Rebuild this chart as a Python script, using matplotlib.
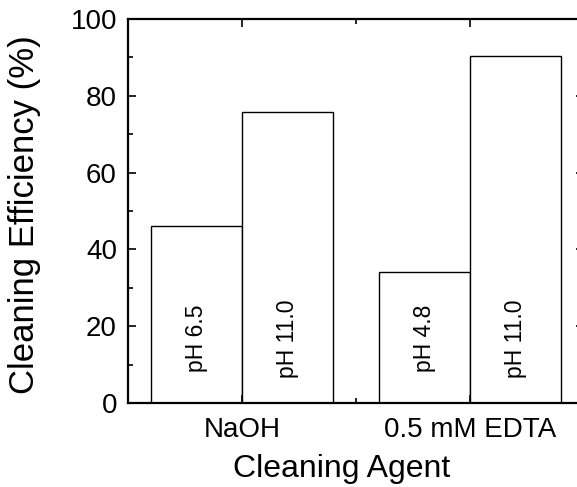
import numpy as np
import matplotlib
matplotlib.use('Agg')
import matplotlib.pyplot as plt
from matplotlib.ticker import MultipleLocator

# data
agents = ['NaOH', '0.5 mM EDTA']
eff_low = [46.2, 34.2]      # cleaning efficiency at the lower pH (%)
eff_high = [75.8, 90.4]     # cleaning efficiency at pH 11.0 (%)
ph_low = ['pH 6.5', 'pH 4.8']
ph_high = ['pH 11.0', 'pH 11.0']

plt.rcParams['font.family'] = ['Liberation Sans', 'DejaVu Sans']

fig = plt.figure(figsize=(5.77, 4.87), dpi=100)
ax = fig.add_axes([128/577, 1 - 403/487, (583.5 - 128)/577, (403 - 19)/487])

x = np.arange(1, len(agents) + 1)
w = 0.4
ax.bar(x - w/2, eff_low, width=w, color='white', edgecolor='black', linewidth=1.0)
ax.bar(x + w/2, eff_high, width=w, color='white', edgecolor='black', linewidth=1.0)

for xi, lbl in zip(x - w/2, ph_low):
    ax.text(xi, 16.8, lbl, rotation=90, ha='center', va='center', fontsize=16.5)
for xi, lbl in zip(x + w/2, ph_high):
    ax.text(xi, 16.8, lbl, rotation=90, ha='center', va='center', fontsize=16.5)

ax.set_xlim(0.5, 2.5)
ax.set_ylim(0, 100)
ax.set_xticks(x)
ax.set_xticklabels(agents)
ax.xaxis.set_minor_locator(MultipleLocator(0.5))
ax.yaxis.set_major_locator(MultipleLocator(20))
ax.yaxis.set_minor_locator(MultipleLocator(10))

ax.tick_params(which='both', direction='in', top=True, right=True, width=1.2)
ax.tick_params(which='major', length=5.5, labelsize=20, pad=8)
ax.tick_params(axis='x', which='major', pad=10)
ax.tick_params(which='minor', length=3.5)
for s in ax.spines.values():
    s.set_linewidth(1.6)

ax.set_xlabel('Cleaning Agent', fontsize=23)
ax.xaxis.set_label_coords(0.47, -0.134)
ax.set_ylabel('Cleaning Efficiency (%)', fontsize=25)
ax.yaxis.set_label_coords(-0.192, 0.49)

fig.savefig('out.png', dpi=100)
